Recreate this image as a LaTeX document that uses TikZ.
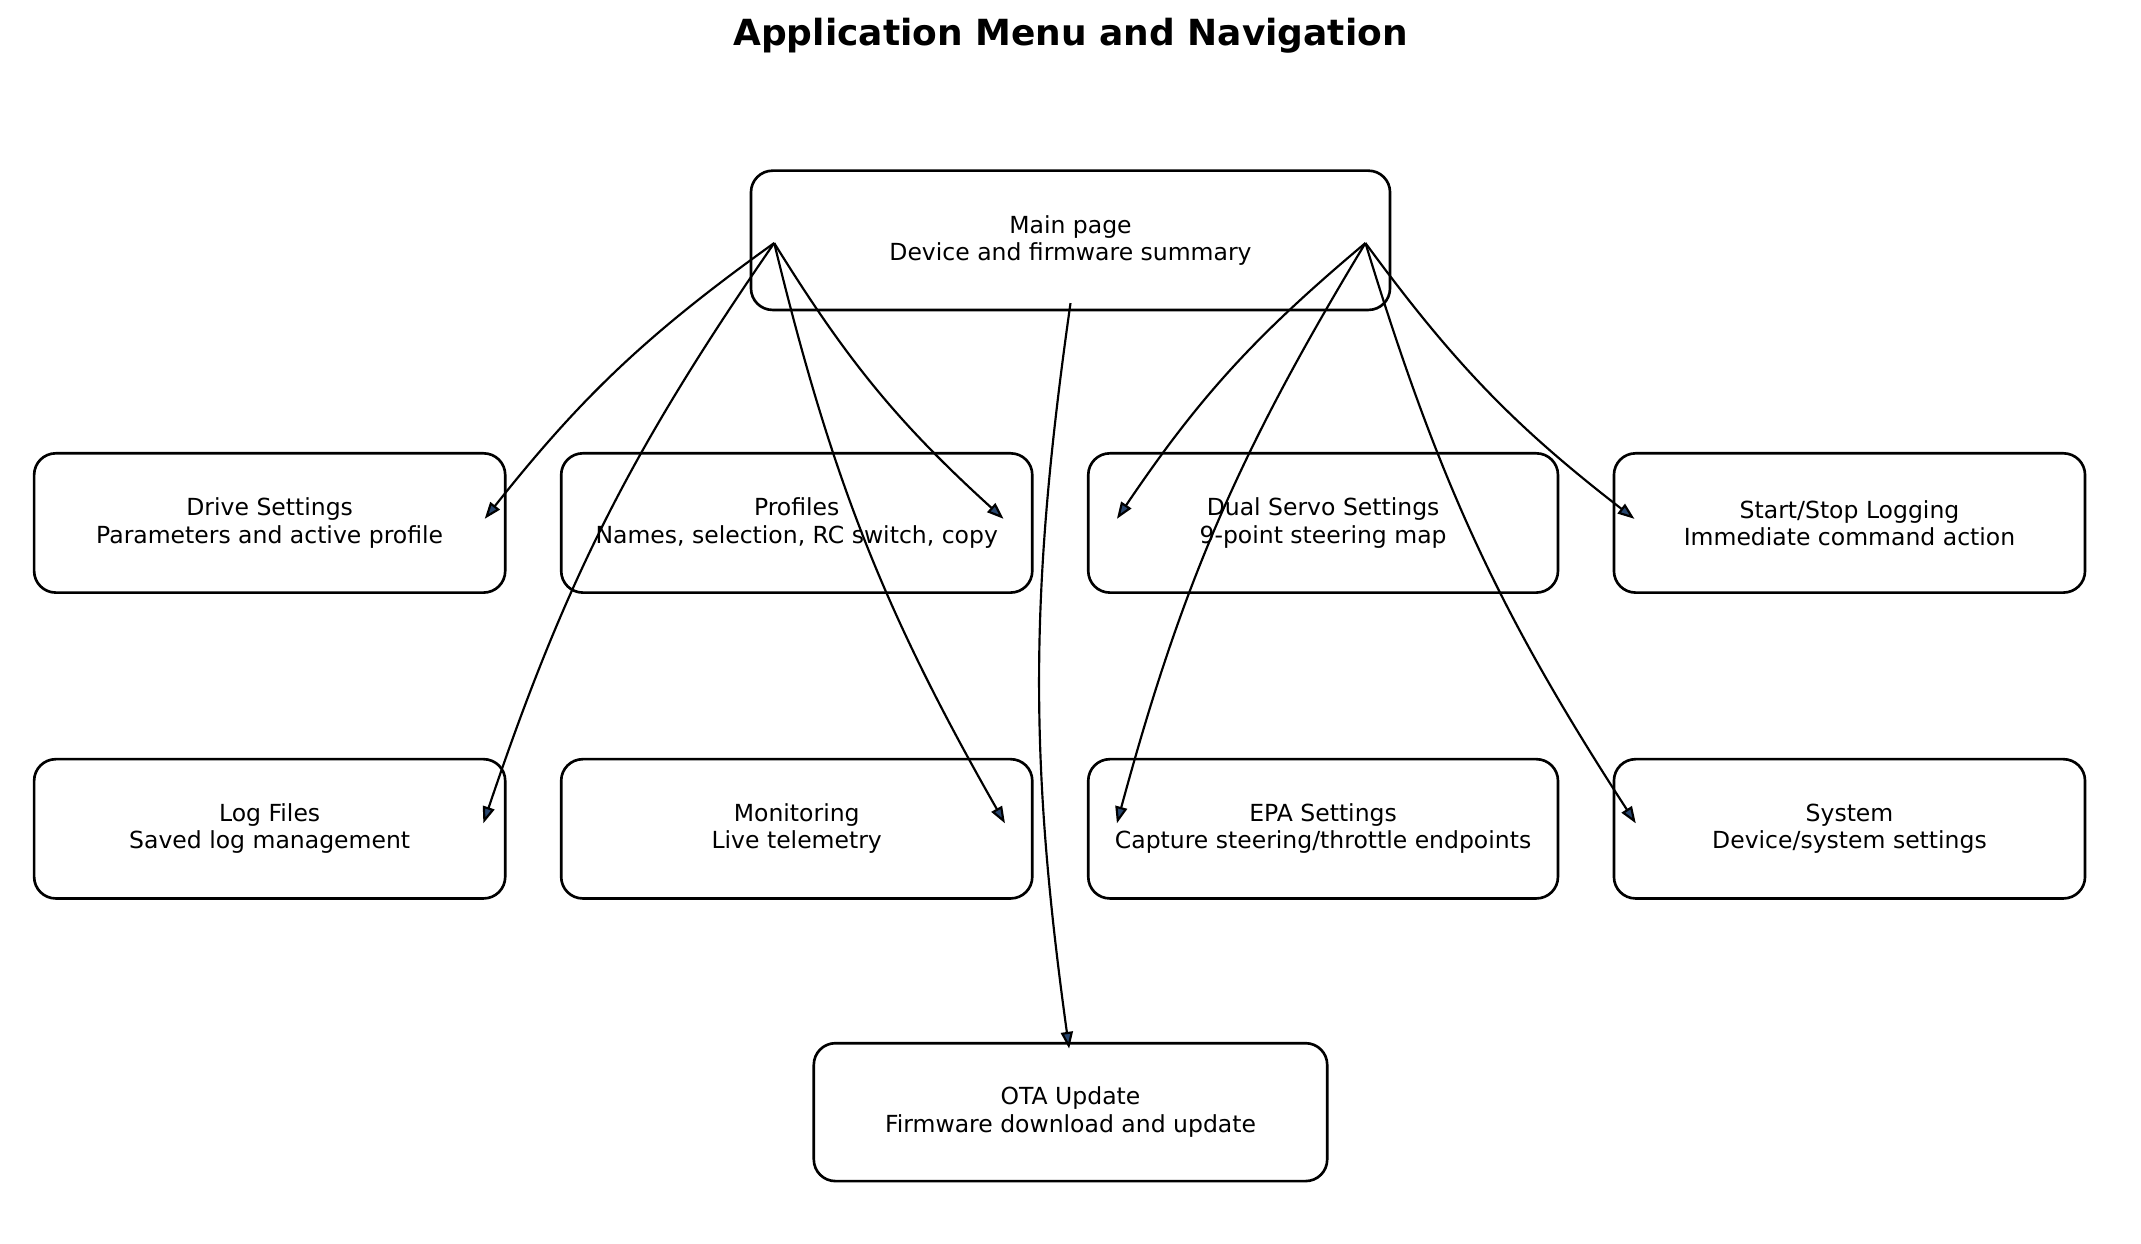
\documentclass[tikz,border=0pt]{standalone}
\usepackage{fontspec}
\setmainfont{DejaVu Sans}
\usetikzlibrary{arrows.meta}
\begin{document}
\begin{tikzpicture}[x=0.02cm,y=-0.02cm,
  box/.style={draw,line width=1.1pt,rounded corners=9pt,align=center,font=\fontsize{9.8}{11.4}\selectfont,inner sep=0pt},
  arr/.style={line width=0.9pt,-{Stealth[length=7pt,width=5pt,fill={rgb,255:red,40;green,70;blue,110},inset=0pt]},bend right=8}]
\useasboundingbox (0,0) rectangle (1568,911);
\node[font=\bfseries\fontsize{15}{18}\selectfont] (title) at (784,26) {Application Menu and Navigation};
\newcommand{\bx}[6]{\node[box,minimum width={(#3-#2)*0.02cm},minimum height={(#5-#4)*0.02cm}] (#1) at ({(#2+#3)/2},{(#4+#5)/2}) {#6};}
\bx{main}{550}{1018}{125}{227}{Main page\\Device and firmware summary}
\bx{drive}{25}{370}{332}{434}{Drive Settings\\Parameters and active profile}
\bx{prof}{411}{756}{332}{434}{Profiles\\Names, selection, RC switch, copy}
\bx{dual}{797}{1141}{332}{434}{Dual Servo Settings\\9-point steering map}
\bx{start}{1182}{1527}{332}{434}{Start/Stop Logging\\Immediate command action}
\bx{log}{25}{370}{556}{658}{Log Files\\Saved log management}
\bx{mon}{411}{756}{556}{658}{Monitoring\\Live telemetry}
\bx{epa}{797}{1141}{556}{658}{EPA Settings\\Capture steering/throttle endpoints}
\bx{sys}{1182}{1527}{556}{658}{System\\Device/system settings}
\bx{ota}{596}{972}{764}{865}{OTA Update\\Firmware download and update}
\coordinate (sL) at (567,178);
\coordinate (sR) at (1000,178);
\coordinate (sM) at (784,222);
\coordinate (eDrive) at (355,380);
\coordinate (eProf) at (735,380);
\coordinate (eLog) at (354,603);
\coordinate (eMon) at (736,603);
\coordinate (eDual) at (818,380);
\coordinate (eStart) at (1197,380);
\coordinate (eEpa) at (818,603);
\coordinate (eSys) at (1198,603);
\coordinate (eOta) at (783,768);
\draw[arr] (sL) to (eDrive);
\draw[arr] (sL) to (eProf);
\draw[arr] (sL) to (eLog);
\draw[arr] (sL) to (eMon);
\draw[arr] (sR) to (eDual);
\draw[arr] (sR) to (eStart);
\draw[arr] (sR) to (eEpa);
\draw[arr] (sR) to (eSys);
\draw[arr] (sM) to (eOta);
\end{tikzpicture}
\end{document}
